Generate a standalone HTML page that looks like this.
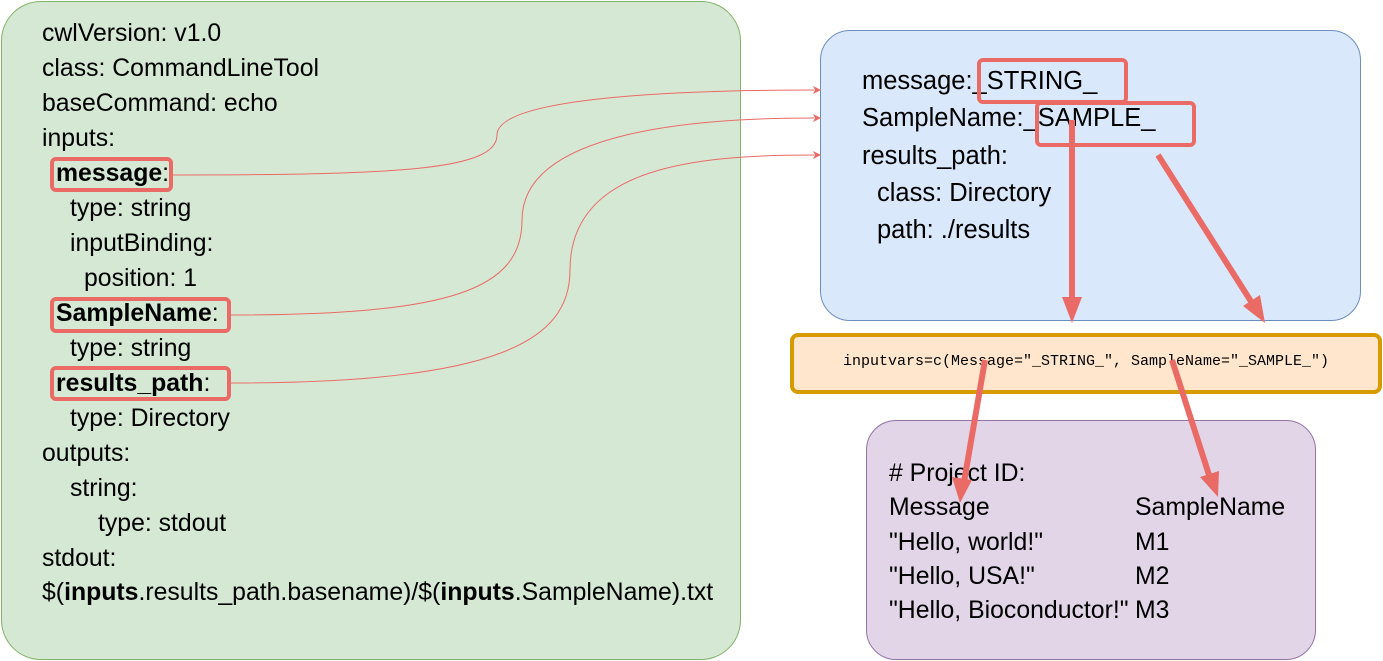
<!DOCTYPE html>
<html><head><style>
body{margin:0;width:1383px;height:661px;background:#fff;position:relative;overflow:hidden;font-family:"Liberation Sans",Arial,sans-serif;color:#000}
.box{position:absolute;box-sizing:border-box}
.t{position:absolute;font-size:24.8px;white-space:pre;line-height:28px}
.r{position:absolute;border:4px solid #ea6b66;border-radius:6px;box-sizing:border-box}
</style></head><body>
<div class="box" style="left:1px;top:1px;width:740px;height:659px;background:#d5e8d4;border:1px solid #82b366;border-radius:40px"></div>
<div class="box" style="left:820px;top:30px;width:541px;height:291px;background:#dae8fc;border:1px solid #6c8ebf;border-radius:30px"></div>
<div class="box" style="left:790px;top:333px;width:592px;height:61px;background:#ffe6cc;border:4px solid #d79b00;border-radius:8px"></div>
<div class="box" style="left:866px;top:420px;width:450px;height:240px;background:#e1d5e7;border:1px solid #9673a6;border-radius:30px"></div>

<div class="t" style="left:42px;top:20px">cwlVersion: v1.0</div>
<div class="t" style="left:42px;top:55px">class: CommandLineTool</div>
<div class="t" style="left:42px;top:90px">baseCommand: echo</div>
<div class="t" style="left:42px;top:125px">inputs:</div>
<div class="t" style="left:56px;top:160px"><b>message</b>:</div>
<div class="t" style="left:70px;top:195px">type: string</div>
<div class="t" style="left:70px;top:230px">inputBinding:</div>
<div class="t" style="left:84px;top:265px">position: 1</div>
<div class="t" style="left:56px;top:300px"><b>SampleName</b>:</div>
<div class="t" style="left:70px;top:335px">type: string</div>
<div class="t" style="left:56px;top:370px"><b>results_path</b>:</div>
<div class="t" style="left:70px;top:405px">type: Directory</div>
<div class="t" style="left:42px;top:440px">outputs:</div>
<div class="t" style="left:70px;top:475px">string:</div>
<div class="t" style="left:98px;top:510px">type: stdout</div>
<div class="t" style="left:42px;top:545px">stdout:</div>
<div class="t" style="left:42px;top:579px">$(<b>inputs</b>.results_path.basename)/$(<b>inputs</b>.SampleName).txt</div>
<div class="r" style="left:50px;top:157px;width:123px;height:35px"></div>
<div class="r" style="left:50px;top:297px;width:181px;height:36px"></div>
<div class="r" style="left:50px;top:366px;width:181px;height:35px"></div>

<div class="t" style="left:862px;top:67px;font-size:25.5px">message:_STRING_</div>
<div class="t" style="left:862px;top:104px;font-size:25.5px">SampleName:_SAMPLE_</div>
<div class="t" style="left:862px;top:142px;font-size:25.5px">results_path:</div>
<div class="t" style="left:877px;top:179px;font-size:25.5px">class: Directory</div>
<div class="t" style="left:877px;top:216px;font-size:25.5px">path: ./results</div>
<div class="r" style="left:977px;top:58px;width:151px;height:46px"></div>
<div class="r" style="left:1035px;top:101px;width:161px;height:46px"></div>

<div class="t" style="left:790px;top:348px;width:592px;text-align:center;font-family:'Liberation Mono',monospace;font-size:15px">inputvars=c(Message="_STRING_", SampleName="_SAMPLE_")</div>

<div class="t" style="left:889px;top:460px"># Project ID:</div>
<div class="t" style="left:889px;top:494px">Message</div>
<div class="t" style="left:889px;top:529px">"Hello, world!"</div>
<div class="t" style="left:889px;top:563px">"Hello, USA!"</div>
<div class="t" style="left:889px;top:597px">"Hello, Bioconductor!"</div>
<div class="t" style="left:1135px;top:494px">SampleName</div>
<div class="t" style="left:1135px;top:529px">M1</div>
<div class="t" style="left:1135px;top:563px">M2</div>
<div class="t" style="left:1135px;top:597px">M3</div>

<svg width="1383" height="661" style="position:absolute;left:0;top:0">
<g fill="none" stroke="#ea6b66" stroke-width="1">
<path d="M173,175 C400,175 497,170 497,135 C497,95 700,90 814,90"/>
<path d="M231,315 C450,315 522,290 522,220 C522,130 700,118 814,118"/>
<path d="M231,383 C500,383 570,340 570,270 C570,165 700,155 814,155"/>
</g>
<g fill="#ea6b66">
<path d="M821,90 l-8,-4 l2,4 l-2,4z"/>
<path d="M821,118 l-8,-4 l2,4 l-2,4z"/>
<path d="M821,155 l-8,-4 l2,4 l-2,4z"/>
</g>
<g stroke="#ea6b66" stroke-width="6" fill="none">
<line x1="1072" y1="120" x2="1072" y2="300"/>
<line x1="1158" y1="155" x2="1252" y2="303"/>
<line x1="985" y1="360" x2="964" y2="482"/>
<line x1="1172" y1="360" x2="1210" y2="478"/>
</g>
<g fill="#ea6b66">
<path d="M1072,323 l-10,-26 l20,0z"/>
<path d="M1265,323 l-22,-17 l17,-11z"/>
<path d="M960,503 l-8,-26 l20,3z"/>
<path d="M1218,497 l-18,-20 l19,-6z"/>
</g>
</svg>
</body></html>
